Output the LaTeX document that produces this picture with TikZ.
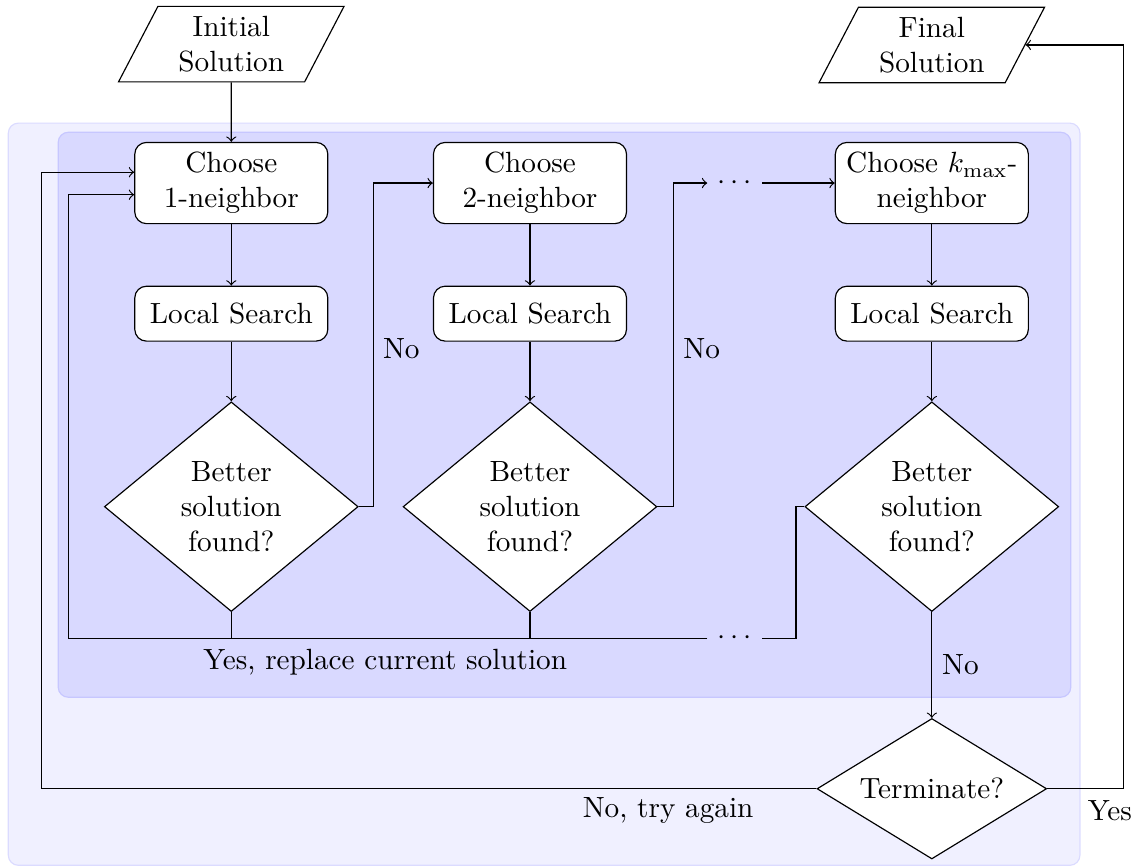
\documentclass[tikz,border=0pt]{standalone}
\usetikzlibrary{shapes.geometric}

\begin{document}
\begin{tikzpicture}[
  box/.style={draw, rounded corners, fill=white, align=center,
    minimum width=2.32cm, minimum height=0.66cm},
  io/.style={draw, trapezium, trapezium left angle=66, trapezium right angle=114,
    trapezium stretches=true, align=center, minimum width=2.73cm, minimum height=0.87cm},
  decision/.style={draw, diamond, fill=white, align=center, aspect=1.21,
    inner sep=0pt, minimum width=3.05cm, minimum height=2.52cm}
  ]
  \useasboundingbox (0,0) rectangle (13.63,-10.42);

  % background panels
  \filldraw[fill=blue!6, draw=blue!14, rounded corners=0.12cm] (0.10,-1.48) rectangle (12.98,-10.40);
  \filldraw[fill=blue!15, draw=blue!22, rounded corners=0.12cm] (0.70,-1.59) rectangle (12.87,-8.38);

  \node[io] (init) at (2.78,-0.53) {Initial\\Solution};
  \node[io] (final) at (11.20,-0.54) {Final\\Solution};

  \node[box] (c1) at (2.78,-2.20) {Choose\\1-neighbor};
  \node[box] (c2) at (6.37,-2.20) {Choose\\2-neighbor};
  \node[box] (ck) at (11.20,-2.20) {Choose $k_{\max}$-\\neighbor};

  \node[box] (ls1) at (2.78,-3.77) {Local Search};
  \node[box] (ls2) at (6.37,-3.77) {Local Search};
  \node[box] (lsk) at (11.20,-3.77) {Local Search};

  \node[decision] (d1) at (2.78,-6.09) {Better\\solution\\found?};
  \node[decision] (d2) at (6.37,-6.09) {Better\\solution\\found?};
  \node[decision] (dk) at (11.20,-6.09) {Better\\solution\\found?};

  \node[decision, minimum width=2.76cm, minimum height=1.61cm] (term) at (11.20,-9.48) {Terminate?};

  \node (dots1) at (8.83,-2.20) {$\cdots$};
  \node (dots2) at (8.83,-7.67) {$\cdots$};

  \coordinate (back1) at (0.82,-7.67);
  \coordinate (back2) at (0.50,-9.48);
  \coordinate (fwd) at (13.50,-9.48);

  \draw[->] (init) -- (c1);
  \draw[->] (c1) -- (ls1);
  \draw[->] (ls1) -- (d1);
  \draw[->] (c2) -- (ls2);
  \draw[->] (ls2) -- (d2);
  \draw[->] (ck) -- (lsk);
  \draw[->] (lsk) -- (dk);

  \draw[->] (d1.east) -- ++(0.18,0) |- (c2.west);
  \draw[->] (d2.east) -- ++(0.19,0) |- (dots1.west);
  \draw[->] (dots1) -- (ck);

  \draw (d1.south) -- (d1.south |- dots2);
  \draw (d2.south) -- (d2.south |- dots2);
  \draw[->] (dots2.west) -- (back1) |- ([yshift=-0.14cm]c1.west);
  \draw (dots2.east) -| ([xshift=-0.1cm]dk.west) -- (dk.west);

  \draw[->] (dk) -- (term) node[midway, right] {No};
  \draw[->] (term.west) -- (back2) |- ([yshift=0.13cm]c1.west);
  \draw[->] (term.east) -- (fwd) |- (final.east);

  \node[right] (no1) at (4.48,-4.19) {No};
  \node[right] (no2) at (8.09,-4.19) {No};
  \node (yes1) at (4.63,-7.96) {Yes, replace current solution};
  \node (no3) at (8.03,-9.74) {No, try again};
  \node (yes2) at (13.34,-9.74) {Yes};
\end{tikzpicture}
\end{document}
